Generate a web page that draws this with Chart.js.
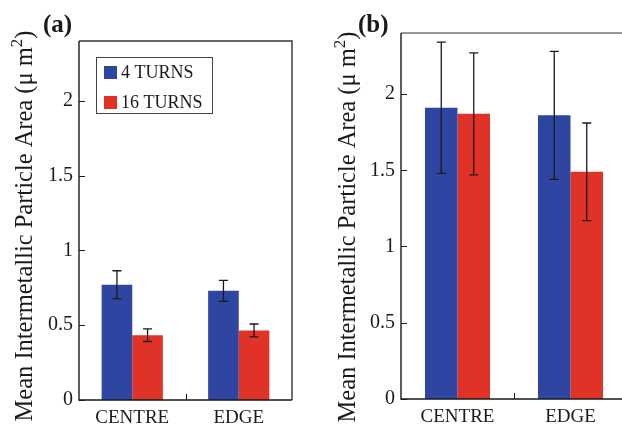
<!DOCTYPE html>
<html>
<head>
<meta charset="utf-8">
<script src="https://cdn.jsdelivr.net/npm/chart.js@4.4.1/dist/chart.umd.min.js"></script>
<style>
    html, body { margin: 0; padding: 0; background: #fff; overflow: hidden; width: 622px; height: 427px; }
    canvas { position: absolute; top: 0; }
    #chart-a { left: 0; }
    #chart-b { left: 311px; }
</style>
</head>
<body>
<canvas id="chart-a" width="311" height="427"></canvas>
<canvas id="chart-b" width="330" height="427"></canvas>
<script>
// Mean intermetallic particle area, two panels.

const categories = ['CENTRE', 'EDGE'];
const seriesLabels = ['4 TURNS', '16 TURNS'];

// panel (a)
const a4Turns = [0.77, 0.73];
const a4TurnsErr = [0.094, 0.07];
const a16Turns = [0.433, 0.465];
const a16TurnsErr = [0.042, 0.043];

// panel (b)
const b4Turns = [1.91, 1.86];
const b4TurnsErr = [0.43, 0.42];
const b16Turns = [1.87, 1.49];
const b16TurnsErr = [0.40, 0.32];

const yTicks = [0, 0.5, 1, 1.5, 2];

const BLUE = '#2e46a1';
const RED = '#e03226';
const INK = '#1a1a1a';
const SERIF = '"Liberation Serif", "DejaVu Serif", serif';

const decoPlugin = {
    id: 'deco',
    afterDatasetsDraw(chart) {
        const ctx = chart.ctx;
        const y = chart.scales.y;
        chart.data.datasets.forEach((ds, di) => {
            const meta = chart.getDatasetMeta(di);
            meta.data.forEach((bar, i) => {
                const v = ds.data[i];
                const e = ds.errors[i];
                const yt = y.getPixelForValue(v + e);
                const yb = y.getPixelForValue(v - e);
                ctx.save();
                ctx.strokeStyle = INK;
                ctx.lineWidth = 1.3;
                ctx.beginPath();
                ctx.moveTo(bar.x, yt); ctx.lineTo(bar.x, yb);
                ctx.moveTo(bar.x - 4.5, yt); ctx.lineTo(bar.x + 4.5, yt);
                ctx.moveTo(bar.x - 4.5, yb); ctx.lineTo(bar.x + 4.5, yb);
                ctx.stroke();
                ctx.restore();
            });
        });
    },
    afterDraw(chart, args, opts) {
        const ctx = chart.ctx;
        const a = chart.chartArea;
        const x = chart.scales.x;
        const y = chart.scales.y;
        ctx.save();

        // frame: top / right lighter, left / bottom black
        ctx.lineWidth = 1.4;
        ctx.strokeStyle = opts.frameColor;
        ctx.beginPath();
        ctx.moveTo(a.left, a.top); ctx.lineTo(a.right, a.top);
        ctx.lineTo(a.right, a.bottom);
        ctx.stroke();
        ctx.strokeStyle = INK;
        ctx.beginPath();
        ctx.moveTo(a.left, a.top); ctx.lineTo(a.left, a.bottom); ctx.lineTo(a.right, a.bottom);
        ctx.stroke();

        // inward ticks
        ctx.lineWidth = 1;
        ctx.beginPath();
        y.ticks.forEach(t => {
            const py = Math.round(y.getPixelForValue(t.value)) + 0.5;
            ctx.moveTo(a.left, py); ctx.lineTo(a.left + 6, py);
        });
        for (let i = 0; i < x.ticks.length - 1; i++) {
            const px = Math.round((x.getPixelForTick(i) + x.getPixelForTick(i + 1)) / 2) + 0.5;
            ctx.moveTo(px, a.bottom); ctx.lineTo(px, a.bottom - 6);
        }
        ctx.stroke();

        // panel label
        ctx.fillStyle = INK;
        ctx.font = 'bold 25px ' + SERIF;
        ctx.textBaseline = 'alphabetic';
        ctx.textAlign = 'left';
        ctx.fillText(opts.panel, opts.panelX, 32);

        // y title with superscript
        const main = 'Mean Intermetallic Particle Area (\u03bc m';
        ctx.font = '24.5px ' + SERIF;
        const wMain = ctx.measureText(main).width;
        const wClose = ctx.measureText(')').width;
        ctx.font = '17px ' + SERIF;
        const wSup = ctx.measureText('2').width;
        const total = wMain + wSup + wClose;
        ctx.translate(opts.titleX, opts.titleY);
        ctx.rotate(-Math.PI / 2);
        ctx.textAlign = 'left';
        ctx.font = '24.5px ' + SERIF;
        ctx.fillText(main, -total / 2, 0);
        ctx.font = '17px ' + SERIF;
        ctx.fillText('2', -total / 2 + wMain, -10);
        ctx.font = '24.5px ' + SERIF;
        ctx.fillText(')', -total / 2 + wMain + wSup, 0);
        ctx.setTransform(1, 0, 0, 1, 0, 0);

        // legend box
        if (opts.legend) {
            ctx.strokeStyle = '#444';
            ctx.lineWidth = 1;
            ctx.strokeRect(96.5, 57.5, 116, 56);
            ctx.font = '18px ' + SERIF;
            ctx.textBaseline = 'middle';
            chart.data.datasets.forEach((ds, i) => {
                const cy = 72.5 + i * 30;
                ctx.fillStyle = ds.backgroundColor;
                ctx.fillRect(104, cy - 6.5, 13, 13);
                ctx.fillStyle = INK;
                ctx.fillText(ds.label, 121, cy + 1);
            });
        }
        ctx.restore();
    }
};

function makePanel(canvasId, s4, e4, s16, e16, layout, deco) {
    return new Chart(document.getElementById(canvasId), {
        type: 'bar',
        data: {
            labels: categories,
            datasets: [
                { label: seriesLabels[0], data: s4, errors: e4, backgroundColor: BLUE },
                { label: seriesLabels[1], data: s16, errors: e16, backgroundColor: RED },
            ],
        },
        options: {
            responsive: false,
            animation: false,
            devicePixelRatio: 1,
            categoryPercentage: 0.575,
            barPercentage: 1.0,
            layout: {
                autoPadding: false,
                padding: { left: 0, top: layout.top, right: layout.right, bottom: 0 },
            },
            plugins: {
                legend: { display: false },
                tooltip: { enabled: false },
                deco: deco,
            },
            scales: {
                x: {
                    grid: { display: false, drawTicks: false },
                    border: { display: false },
                    ticks: { color: INK, font: { family: SERIF, size: 19 }, padding: 7 },
                    afterFit: s => { s.height = layout.xHeight; },
                },
                y: {
                    min: 0,
                    max: 2.4,
                    grid: { display: false, drawTicks: false },
                    border: { display: false },
                    afterBuildTicks: s => { s.ticks = yTicks.map(v => ({ value: v })); },
                    ticks: {
                        color: INK,
                        font: { family: SERIF, size: 20 },
                        padding: 6,
                        callback: v => String(v),
                    },
                    afterFit: s => { s.width = layout.yWidth; },
                },
            },
        },
        plugins: [decoPlugin],
    });
}

makePanel('chart-a', a4Turns, a4TurnsErr, a16Turns, a16TurnsErr,
    { top: 41, right: 19, xHeight: 27, yWidth: 79 },
    { panel: '(a)', panelX: 43, titleX: 32, titleY: 226, legend: true, frameColor: '#333' });

makePanel('chart-b', b4Turns, b4TurnsErr, b16Turns, b16TurnsErr,
    { top: 33, right: 14, xHeight: 28, yWidth: 90 },
    { panel: '(b)', panelX: 47, titleX: 44, titleY: 227, legend: false, frameColor: '#777' });
</script>
</body>
</html>
